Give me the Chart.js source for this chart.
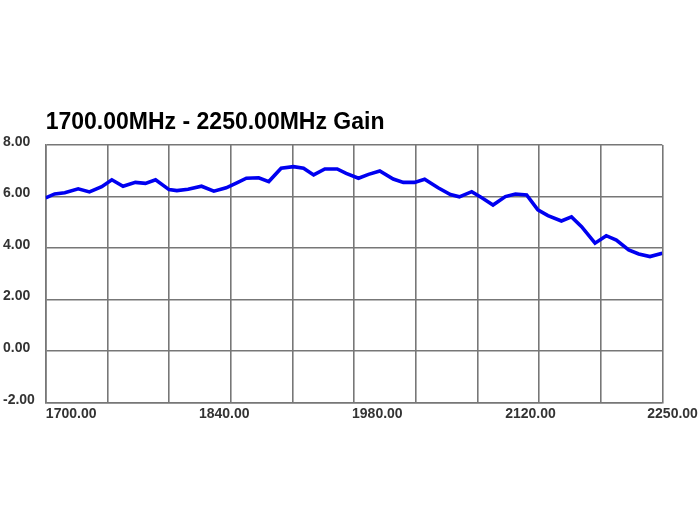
<!DOCTYPE html>
<html>
<head>
<meta charset="utf-8">
<script src="https://cdn.jsdelivr.net/npm/chart.js@4.4.1/dist/chart.umd.min.js"></script>
<style>
    html, body { margin: 0; padding: 0; background: #fff; }
</style>
</head>
<body>
<canvas id="chartGain" width="700" height="530"></canvas>
<script>
// frequency (MHz) and gain
const freqMHz = [
    1700, 1708, 1717, 1729, 1739, 1750, 1759, 1769, 1780, 1789,
    1798, 1810, 1817, 1827, 1839, 1850, 1861, 1870, 1879, 1890,
    1899, 1910, 1921, 1930, 1939, 1949, 1960, 1968, 1979, 1988,
    1998, 2010, 2019, 2029, 2038, 2050, 2061, 2069, 2080, 2089,
    2099, 2110, 2119, 2129, 2139, 2148, 2160, 2169, 2178, 2190,
    2200, 2209, 2220, 2229, 2239, 2250
];
const gainDb = [
    5.95, 6.10, 6.15, 6.30, 6.18, 6.38, 6.65, 6.40, 6.55, 6.51,
    6.65, 6.27, 6.23, 6.28, 6.40, 6.21, 6.34, 6.52, 6.71, 6.73,
    6.58, 7.10, 7.16, 7.10, 6.84, 7.07, 7.07, 6.90, 6.71, 6.86,
    6.99, 6.68, 6.55, 6.55, 6.67, 6.34, 6.08, 5.99, 6.19, 5.95,
    5.67, 6.00, 6.10, 6.06, 5.48, 5.26, 5.05, 5.21, 4.83, 4.19,
    4.48, 4.31, 3.93, 3.77, 3.67, 3.80
];

const gridFreqs = [1700, 1755, 1810, 1865, 1920, 1975, 2030, 2085, 2140, 2195, 2250];
const labelFreqs = [1700, 1840, 1980, 2120, 2250];
const gainTicks = [-2, 0, 2, 4, 6, 8];

const gridColor = '#777777';
const labelFont = { family: "'Liberation Sans', Arial, sans-serif", size: 14, weight: 'bold' };

const ctx = document.getElementById("chartGain").getContext('2d');

new Chart(ctx, {
    type: "line",
    data: {
        datasets: [{
            label: "Gain",
            data: freqMHz.map((f, i) => ({ x: f, y: gainDb[i] })),
            borderColor: '#0000f0',
            borderWidth: 3.6,
            pointRadius: 0,
            tension: 0,
            fill: false
        }]
    },
    options: {
        responsive: false,
        animation: false,
        layout: {
            padding: { left: 3, right: 37.7, top: 108.7, bottom: 103 }
        },
        scales: {
            x: {
                type: 'linear',
                position: 'bottom',
                min: 1700,
                max: 2250,
                afterBuildTicks: axis => { axis.ticks = gridFreqs.map(v => ({ value: v })); },
                afterFit: axis => { axis.height = 0; },
                ticks: { display: false },
                grid: { color: gridColor, lineWidth: 1.6, drawTicks: false },
                border: { color: gridColor, width: 1.6 }
            },
            // labels of the original sit off the grid lines, so they get their own axis
            xLabels: {
                type: 'linear',
                position: 'bottom',
                min: 1676.7,
                max: 2240.6,
                afterBuildTicks: axis => { axis.ticks = labelFreqs.map(v => ({ value: v })); },
                afterFit: axis => {
                    axis.height = 24.3;
                    axis.paddingLeft = 0;
                    axis.paddingRight = 0;
                },
                grid: { display: false, drawTicks: false },
                border: { display: false },
                ticks: {
                    autoSkip: false,
                    maxRotation: 0,
                    padding: 3,
                    color: '#333333',
                    font: labelFont,
                    callback: v => v.toFixed(2)
                }
            },
            y: {
                min: -2,
                max: 8,
                afterBuildTicks: axis => { axis.ticks = gainTicks.map(v => ({ value: v })); },
                afterFit: axis => { axis.width = 42.7; },
                grid: { color: gridColor, lineWidth: 1.6, drawTicks: false },
                border: { color: gridColor, width: 1.6 },
                ticks: {
                    crossAlign: 'far',
                    labelOffset: -3,
                    color: '#333333',
                    font: labelFont,
                    callback: v => v.toFixed(2)
                }
            }
        },
        plugins: {
            legend: { display: false },
            tooltip: { enabled: false },
            title: {
                display: true,
                text: "1700.00MHz - 2250.00MHz Gain",
                align: 'start',
                fullSize: false,
                color: '#000000',
                font: { family: "'Liberation Sans', Arial, sans-serif", size: 23, weight: 'bold' },
                padding: { top: 0, bottom: 8.7 }
            }
        }
    }
});
</script>
</body>
</html>
